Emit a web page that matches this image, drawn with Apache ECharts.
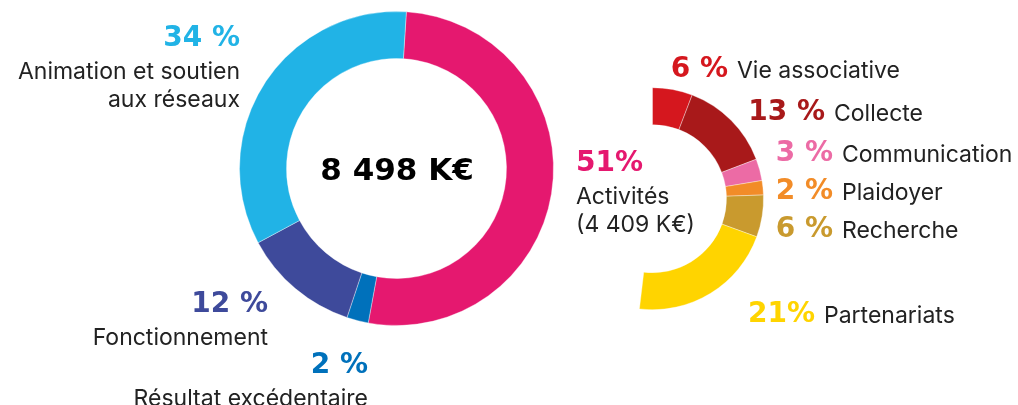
<!DOCTYPE html>
<html>
<head>
<meta charset="utf-8">
<script src="https://cdn.jsdelivr.net/npm/echarts@6/dist/echarts.min.js"></script>
<style>
  html, body { margin: 0; padding: 0; background: #fff; }
  #chart { width: 1018px; height: 405px; }
</style>
</head>
<body>
<div id="chart"></div>
<script>
// budget split, values in K€
const totalLabel = '8 498 K€';
const mainNames = ['Activités', 'Résultat excédentaire', 'Fonctionnement', 'Animation et soutien\naux réseaux'];
const mainValues = [4409, 189, 1025, 2875];
const mainPct = ['51%', '2 %', '12 %', '34 %'];
const mainColors = ['#E5186F', '#0071BB', '#3E4A9B', '#21B3E6'];

// detail of "Activités"
const activitiesAmount = '(4 409 K€)';
const subNames = ['Vie associative', 'Collecte', 'Communication', 'Plaidoyer', 'Recherche', 'Partenariats'];
const subValues = [494, 1139, 269, 177, 520, 1810];
const subPct = ['6 %', '13 %', '3 %', '2 %', '6 %', '21%'];
const subColors = ['#D5171E', '#A8191A', '#EC6BA5', '#F28C28', '#C99A2E', '#FFD400'];

const mainTotal = mainValues.reduce((a, b) => a + b, 0);
const subTotal = subValues.reduce((a, b) => a + b, 0);

const pctFont = { fontFamily: 'DejaVu Sans', fontWeight: 'bold', fontSize: 28 };
const nameFont = { fontFamily: 'Inter', fontWeight: 'normal', fontSize: 23 };
const nameColor = '#222';

// label anchors (left side labels are right aligned)
const mainLabelPos = [
    { x: 576, y: 164, align: 'left' },
    { x: 368, y: 366, align: 'right' },
    { x: 268, y: 305, align: 'right' },
    { x: 240, y: 39, align: 'right' }
];
const subLabelPos = [
    { x: 728, y: 70 },
    { x: 825, y: 113 },
    { x: 833, y: 154 },
    { x: 833, y: 192 },
    { x: 833, y: 230 },
    { x: 815, y: 315 }
];

const graphics = [];
graphics.push({
    type: 'text', x: 397, y: 172,
    style: { text: totalLabel, fill: '#000', align: 'center', verticalAlign: 'middle', fontFamily: 'DejaVu Sans', fontWeight: 'bold', fontSize: 31 }
});
mainNames.forEach((name, i) => {
    const p = mainLabelPos[i];
    graphics.push({
        type: 'text', x: p.x, y: p.y,
        style: Object.assign({ text: mainPct[i], fill: mainColors[i], align: p.align, verticalAlign: 'middle' }, pctFont)
    });
    let lines = name.split('\n');
    if (i === 0) lines.push(activitiesAmount);
    lines.forEach((line, k) => {
        graphics.push({
            type: 'text', x: p.x, y: p.y + 33 + k * 28.5,
            style: Object.assign({ text: line, fill: nameColor, align: p.align, verticalAlign: 'middle' }, nameFont)
        });
    });
});
subNames.forEach((name, i) => {
    const p = subLabelPos[i];
    graphics.push({
        type: 'text', x: p.x, y: p.y,
        style: Object.assign({ text: subPct[i], fill: subColors[i], align: 'right', verticalAlign: 'middle' }, pctFont)
    });
    graphics.push({
        type: 'text', x: p.x + 9, y: p.y + 1,
        style: Object.assign({ text: name, fill: nameColor, align: 'left', verticalAlign: 'middle' }, nameFont)
    });
});

const chart = echarts.init(document.getElementById('chart'), null, { renderer: 'canvas' });
chart.setOption({
    animation: false,
    series: [
        {
            type: 'pie',
            center: [396.5, 168.5],
            radius: [110, 157],
            startAngle: 86.4,
            label: { show: false },
            labelLine: { show: false },
            silent: true,
            itemStyle: { borderColor: 'rgba(255,255,255,0.6)', borderWidth: 0.6 },
            data: mainNames.map((n, i) => ({ name: n, value: mainValues[i], itemStyle: { color: mainColors[i] } }))
        },
        {
            type: 'pie',
            center: [652.5, 198.7],
            radius: [74, 111],
            startAngle: 90,
            label: { show: false },
            labelLine: { show: false },
            silent: true,
            itemStyle: { borderColor: 'rgba(255,255,255,0.6)', borderWidth: 0.6 },
            data: subNames.map((n, i) => ({ name: n, value: subValues[i], itemStyle: { color: subColors[i] } }))
                .concat([{ name: 'rest', value: mainTotal - subTotal, itemStyle: { color: 'transparent', borderWidth: 0 } }])
        }
    ],
    graphic: graphics
});
</script>
</body>
</html>
